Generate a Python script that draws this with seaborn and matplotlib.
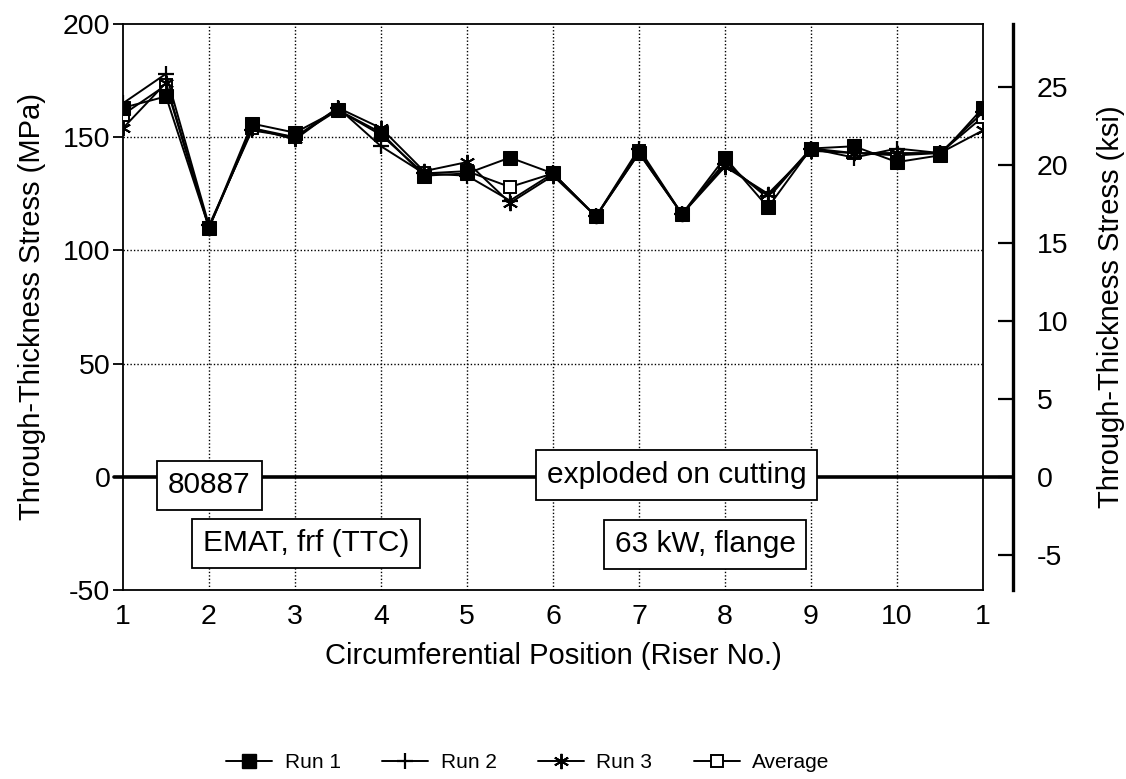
import numpy as np
import pandas as pd
import matplotlib
matplotlib.use("Agg")
import matplotlib.pyplot as plt
import seaborn as sns
from matplotlib.lines import Line2D

# Riser positions around the circumference (11 = back to riser 1)
positions = [1, 1.5, 2, 2.5, 3, 3.5, 4, 4.5, 5, 5.5, 6, 6.5, 7, 7.5, 8, 8.5, 9, 9.5, 10, 10.5, 11]
tick_positions = [1, 2, 3, 4, 5, 6, 7, 8, 9, 10, 11]
tick_labels = ["1", "2", "3", "4", "5", "6", "7", "8", "9", "10", "1"]

# Through-thickness stress, MPa
run1 = [163, 168, 110, 156, 152, 162, 152, 133, 134, 141, 134, 115, 143, 116, 141, 119, 145, 146, 139, 142, 163]
run2 = [165, 178, 111, 153, 150, 163, 146, 134, 133, 122, 134, 115, 145, 116, 138, 124, 145, 141, 145, 143, 161]
run3 = [154, 174, 110, 154, 149, 163, 154, 135, 139, 121, 133, 115, 143, 116, 137, 125, 144, 143, 143, 143, 153]
average = [160, 173, 110, 154, 150, 162, 151, 134, 135, 128, 134, 115, 144, 116, 139, 123, 145, 143, 142, 143, 159]

MPA_PER_KSI = 6.894757

sns.set_style("white")
plt.rcParams["font.family"] = ["Liberation Sans", "DejaVu Sans"]
plt.rcParams["axes.unicode_minus"] = False
plt.rcParams["text.color"] = "black"
plt.rcParams["axes.labelcolor"] = "black"

fig = plt.figure(figsize=(11.26, 7.79), dpi=100)
ax = fig.add_axes([123 / 1126, 1 - 590 / 779, (983 - 123) / 1126, (590 - 24) / 779])

series = {
    "Run 1": run1,
    "Run 2": run2,
    "Run 3": run3,
    "Average": average,
}
styles = {
    "Run 1": dict(marker="s", markersize=10.5, markerfacecolor="black", markeredgecolor="black"),
    "Run 2": dict(marker="+", markersize=12, markeredgewidth=1.6, markeredgecolor="black"),
    "Run 3": dict(marker=(6, 2, 0), markersize=11, markeredgewidth=1.4, markeredgecolor="black"),
    "Average": dict(marker="s", markersize=8.5, markerfacecolor="white", markeredgecolor="black",
                    markeredgewidth=1.4),
}
draw_order = ["Average", "Run 3", "Run 2", "Run 1"]

frames = [pd.DataFrame({"position": positions, "stress": vals, "series": name})
          for name, vals in series.items()]
df = pd.concat(frames, ignore_index=True)

for z, name in enumerate(draw_order):
    sub = df[df["series"] == name]
    sns.lineplot(data=sub, x="position", y="stress", ax=ax, color="black", lw=1.4,
                 sort=False, errorbar=None, legend=False, zorder=3 + z, **styles[name])

ax.set_xlim(1, 11)
ax.set_ylim(-50, 200)
ax.set_xticks(tick_positions)
ax.set_xticklabels(tick_labels)
ax.set_yticks([-50, 0, 50, 100, 150, 200])

# dotted grid
for xv in range(2, 11):
    ax.axvline(xv, color="black", lw=1.0, ls=(0, (1, 1.5)), zorder=1)
for yv in (50, 100, 150):
    ax.axhline(yv, color="black", lw=1.0, ls=(0, (1, 1.5)), zorder=1)

# zero-stress reference line, carried across to the ksi scale
ax.axhline(0, xmin=-0.01, xmax=(1013 - 123) / (983 - 123), color="black", lw=2.6,
           clip_on=False, zorder=2)

for side in ("left", "right", "top", "bottom"):
    ax.spines[side].set_color("black")
    ax.spines[side].set_linewidth(1.3)

ax.tick_params(axis="y", direction="out", length=7, width=1.3, pad=2, labelsize=20.5, colors="black")
ax.tick_params(axis="x", direction="out", length=4, width=1.3, pad=6, labelsize=20.5, colors="black")
ax.set_xlabel("Circumferential Position (Riser No.)", fontsize=21, labelpad=9)
ax.set_ylabel("Through-Thickness Stress (MPa)", fontsize=21, labelpad=12)

# secondary scale in ksi
ax2 = ax.twinx()
ax2.set_ylim(-50 / MPA_PER_KSI, 200 / MPA_PER_KSI)
ax2.set_yticks([-5, 0, 5, 10, 15, 20, 25])
for side in ("left", "top", "bottom"):
    ax2.spines[side].set_visible(False)
ax2.spines["right"].set_position(("outward", 30 * 72 / 100))
ax2.spines["right"].set_linewidth(2.4)
ax2.spines["right"].set_color("black")
ax2.tick_params(axis="y", direction="in", length=11, width=1.6, pad=17, labelsize=20.5, colors="black")
ax2.set_ylabel("Through-Thickness Stress (ksi)", fontsize=21, labelpad=21)
ax2.grid(False)

# annotation boxes
box = dict(boxstyle="square,pad=0.36", facecolor="white", edgecolor="black", lw=1.3)
ax.text(2.006, -3.8, "80887", fontsize=21.5, ha="center", va="center", bbox=box, zorder=10)
ax.text(3.13, -29.4, "EMAT, frf (TTC)", fontsize=21.5, ha="center", va="center", bbox=box, zorder=10)
ax.text(7.44, 0.7, "exploded on cutting", fontsize=21.5, ha="center", va="center", bbox=box, zorder=10)
ax.text(7.77, -29.9, "63 kW, flange", fontsize=21.5, ha="center", va="center", bbox=box, zorder=10)

handles = [Line2D([], [], color="black", lw=1.4, **styles[n]) for n in series]
fig.legend(handles, list(series.keys()), loc="center", bbox_to_anchor=(528 / 1126, 1 - 763 / 779),
           ncol=4, frameon=False, fontsize=15, handlelength=2.2, handletextpad=0.6,
           columnspacing=2.0)

fig.savefig("out.png", dpi=100)
